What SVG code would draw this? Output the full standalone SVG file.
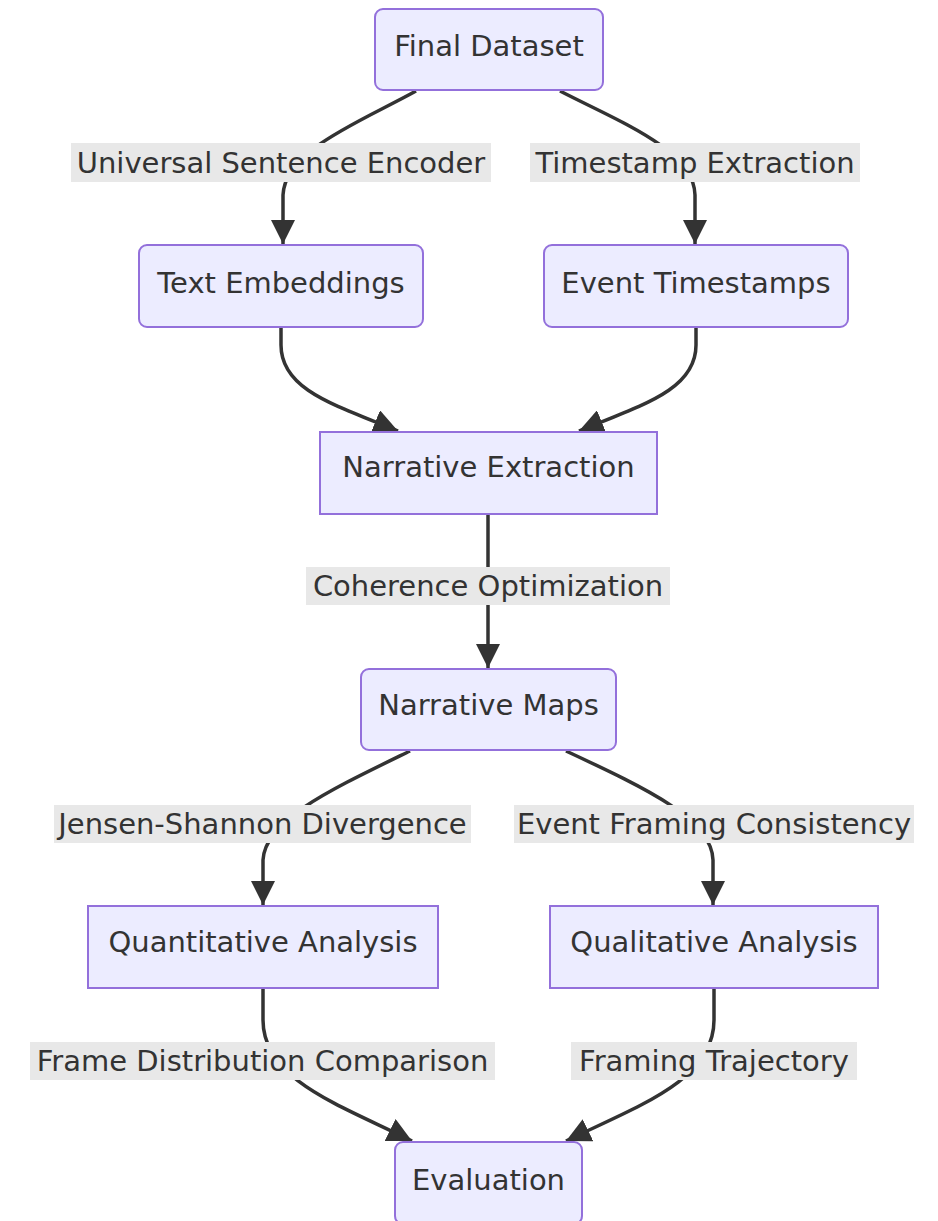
<svg xmlns="http://www.w3.org/2000/svg" width="938" height="1221" viewBox="0 0 938 1221">
<defs>
<style>
.node rect{fill:#ECECFF;stroke:#9370DB;stroke-width:2}
.node text,.lbl text{font-family:"DejaVu Sans",sans-serif;font-size:29px;fill:#333;text-anchor:middle;dominant-baseline:central}
.lbl rect{fill:#e8e8e8}
.edge{fill:none;stroke:#333;stroke-width:3.5}
</style>
<marker id="arr" viewBox="0 0 10 10" refX="10" refY="5" markerWidth="7" markerHeight="7" markerUnits="strokeWidth" orient="auto">
<path d="M0,0 L10,5 L0,10 z" fill="#333"/>
</marker>
</defs>
<rect width="938" height="1221" fill="#fff"/>
<g id="connectors">
<path class="edge" d="M416,91 C360,122 285,150 283,195 L283,244" marker-end="url(#arr)"/>
<path class="edge" d="M560,91 C620,122 694,150 695,195 L695,244" marker-end="url(#arr)"/>
<path class="edge" d="M281,328 L281,345 C281,390 335,405 398,431" marker-end="url(#arr)"/>
<path class="edge" d="M696,328 L696,345 C696,390 642,405 579,431" marker-end="url(#arr)"/>
<path class="edge" d="M488,515 L488,668" marker-end="url(#arr)"/>
<path class="edge" d="M410,751 C330,790 265,820 263,860 L263,905" marker-end="url(#arr)"/>
<path class="edge" d="M566,751 C650,790 712,820 713,860 L713,905" marker-end="url(#arr)"/>
<path class="edge" d="M263,989 L263,1020 C263,1080 340,1105 412,1141" marker-end="url(#arr)"/>
<path class="edge" d="M714,989 L714,1020 C714,1080 640,1105 566,1141" marker-end="url(#arr)"/>
</g>
<g id="edge-labels">
<g class="lbl"><rect x="71" y="143" width="420" height="39"/><text x="281" y="162.5">Universal Sentence Encoder</text></g>
<g class="lbl"><rect x="530" y="143" width="330" height="39"/><text x="695" y="162.5">Timestamp Extraction</text></g>
<g class="lbl"><rect x="306" y="567" width="364" height="38"/><text x="488" y="586">Coherence Optimization</text></g>
<g class="lbl"><rect x="54" y="805" width="417" height="38"/><text x="262.5" y="824">Jensen-Shannon Divergence</text></g>
<g class="lbl"><rect x="514" y="805" width="400" height="38"/><text x="714" y="824">Event Framing Consistency</text></g>
<g class="lbl"><rect x="30" y="1042" width="465" height="38"/><text x="262.5" y="1061">Frame Distribution Comparison</text></g>
<g class="lbl"><rect x="571" y="1042" width="286" height="38"/><text x="714" y="1061">Framing Trajectory</text></g>
</g>
<g id="n-final" class="node"><rect x="375" y="9" width="228" height="81" rx="8"/><text x="489" y="46">Final Dataset</text></g>
<g id="n-text" class="node"><rect x="139" y="245" width="284" height="82" rx="8"/><text x="281" y="283">Text Embeddings</text></g>
<g id="n-event" class="node"><rect x="544" y="245" width="304" height="82" rx="8"/><text x="696" y="283">Event Timestamps</text></g>
<g id="n-extract" class="node"><rect x="320" y="432" width="337" height="82"/><text x="488.5" y="467">Narrative Extraction</text></g>
<g id="n-maps" class="node"><rect x="361" y="669" width="255" height="81" rx="8"/><text x="488.5" y="705">Narrative Maps</text></g>
<g id="n-quant" class="node"><rect x="88" y="906" width="350" height="82"/><text x="263" y="942">Quantitative Analysis</text></g>
<g id="n-qual" class="node"><rect x="550" y="906" width="328" height="82"/><text x="714" y="942">Qualitative Analysis</text></g>
<g id="n-eval" class="node"><rect x="395" y="1142" width="187" height="82" rx="8"/><text x="488.5" y="1180">Evaluation</text></g>
</svg>
